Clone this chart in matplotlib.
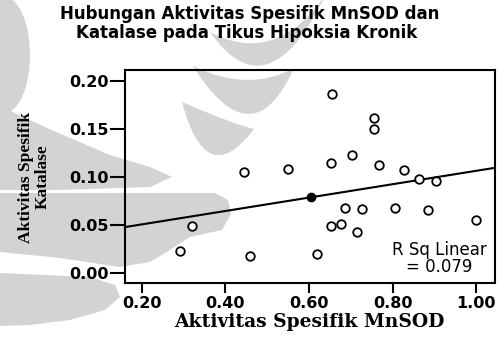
import matplotlib
matplotlib.use("Agg")
import matplotlib.pyplot as plt
from matplotlib.patches import Ellipse, Polygon, PathPatch
from matplotlib.path import Path
from matplotlib.transforms import Affine2D, IdentityTransform
import numpy as np

# MnSOD specific activity (x) and catalase specific activity (y) per rat
mnsod = [0.655, 0.756, 0.756, 0.704, 0.653, 0.768, 0.551, 0.444, 0.828,
         0.863, 0.903, 0.686, 0.727, 0.806, 0.884, 0.999, 0.652, 0.676,
         0.716, 0.321, 0.292, 0.458, 0.619]
katalase = [0.186, 0.161, 0.150, 0.123, 0.114, 0.112, 0.108, 0.105, 0.107,
            0.098, 0.096, 0.068, 0.067, 0.068, 0.066, 0.055, 0.049, 0.051,
            0.0425, 0.049, 0.023, 0.018, 0.020]

# centroid marker sitting on the fit line
mean_x = [0.604]
mean_y = [0.079]

# linear fit
fit_intercept = 0.0369
fit_slope = 0.0695
r_sq = 0.079

x_ticks = [0.20, 0.40, 0.60, 0.80, 1.00]
y_ticks = [0.00, 0.05, 0.10, 0.15, 0.20]

W, H = 504, 342
fig = plt.figure(figsize=(W / 100, H / 100), dpi=100)
fig.patch.set_facecolor("white")

# faint background emblem, laid out in pixel units from the top-left corner
grey = "#d3d3d3"
to_disp = Affine2D().scale(1, -1).translate(0, H) + IdentityTransform()


def crescent(left, right, outer_mid, inner_mid):
    """Closed crescent between two quadratic curves sharing their tips."""
    L, R = np.array(left, float), np.array(right, float)
    co = 2 * np.array(outer_mid, float) - 0.5 * (L + R)
    ci = 2 * np.array(inner_mid, float) - 0.5 * (L + R)
    verts = [L, co, R, ci, L, L]
    codes = [Path.MOVETO, Path.CURVE3, Path.CURVE3, Path.CURVE3, Path.CURVE3,
             Path.CLOSEPOLY]
    return PathPatch(Path(verts, codes))


shapes = [
    Ellipse((5, 55), 50, 115),
    Polygon([(0, 106), (47, 128), (110, 155), (150, 167), (172, 177),
             (150, 187), (60, 190), (0, 190)]),
    Polygon([(0, 193), (215, 193), (228, 200), (231, 214), (222, 230),
             (190, 237), (170, 250), (150, 262), (120, 267), (60, 258),
             (0, 252)]),
    Polygon([(0, 273), (90, 277), (115, 285), (120, 297), (105, 310),
             (70, 320), (30, 325), (0, 326)]),
    crescent((210, 32), (326, -6), (268, 64), (272, 40)),
    crescent((193, 66), (294, 68), (248, 114), (246, 80)),
    crescent((182, 102), (254, 129), (212, 154), (226, 120)),
]
for s in shapes:
    s.set_transform(to_disp)
    s.set_facecolor(grey)
    s.set_edgecolor("none")
    s.set_zorder(0)
    fig.patches.append(s)

ax = fig.add_axes([125 / W, 1 - 283 / H, 370 / W, 213 / H])
ax.set_facecolor("none")
ax.set_zorder(2)

ax.scatter(mnsod, katalase, s=38, facecolors="white", edgecolors="black",
           linewidths=1.3, zorder=3)

xlim = (0.160, 1.045)
xs = np.array(xlim)
ax.plot(xs, fit_intercept + fit_slope * xs, color="black", lw=1.5, zorder=2)
ax.scatter(mean_x, mean_y, s=36, color="black", zorder=4)

ax.set_xlim(*xlim)
ax.set_ylim(-0.010, 0.211)
ax.set_xticks(x_ticks)
ax.set_yticks(y_ticks)
ax.set_xticklabels([f"{v:.2f}" for v in x_ticks])
ax.set_yticklabels([f"{v:.2f}" for v in y_ticks])
ax.tick_params(axis="y", length=11, width=1.5, pad=1, labelsize=11.5)
ax.tick_params(axis="x", length=7, width=1.5, pad=2, labelsize=11.5)
for lab in ax.get_xticklabels() + ax.get_yticklabels():
    lab.set_fontweight("bold")
for sp in ax.spines.values():
    sp.set_linewidth(1.5)

ax.text(0.849, 0.115, f"R Sq Linear\n= {r_sq:.3f}", transform=ax.transAxes,
        ha="center", va="center", fontsize=12, linespacing=0.95,
        multialignment="center", zorder=5)

fig.text(250 / W, 1 - 14 / H, "Hubungan Aktivitas Spesifik MnSOD dan",
         ha="center", va="center", fontsize=12, fontweight="bold")
fig.text(247 / W, 1 - 33 / H, "Katalase pada Tikus Hipoksia Kronik",
         ha="center", va="center", fontsize=12, fontweight="bold")

fig.text(309 / W, 1 - 322 / H, "Aktivitas Spesifik MnSOD", ha="center",
         va="center", fontsize=13.5, fontweight="bold", family="DejaVu Serif")
fig.text(34 / W, 1 - 177 / H, "Aktivitas Spesifik\nKatalase", ha="center",
         va="center", rotation=90, fontsize=12.5, fontweight="bold",
         family="Liberation Serif", multialignment="center", linespacing=1.05)

fig.savefig("out.png", dpi=100)
